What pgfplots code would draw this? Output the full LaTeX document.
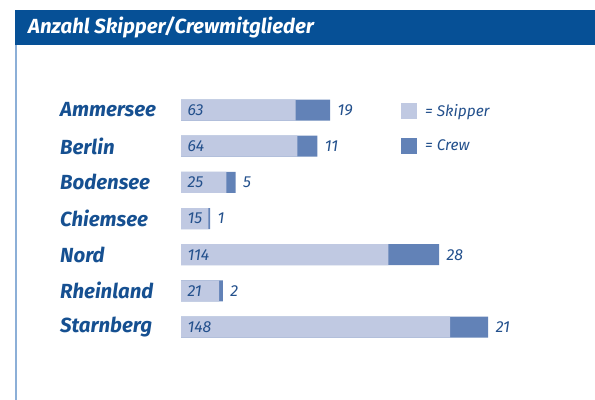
\documentclass[border=0pt]{standalone}
\usepackage{pgfplots}
\pgfplotsset{compat=1.18}
\usepackage{fontspec}
\setmainfont{Fira Sans}
\definecolor{titlebar}{RGB}{6,80,150}
\definecolor{leftline}{RGB}{140,175,215}
\definecolor{catcol}{RGB}{22,80,145}
\definecolor{valcol}{RGB}{35,80,140}
\definecolor{skip}{RGB}{192,201,226}
\definecolor{crew}{RGB}{98,130,183}
\begin{document}
\begin{tikzpicture}
\path[use as bounding box] (0bp,0bp) rectangle (595bp,400bp);
\fill[titlebar] (15bp,355bp) rectangle (595bp,390bp);
\draw[leftline, line width=1.2bp] (16bp,0bp) -- (16bp,355bp);
\node[anchor=west, text=white, font=\bfseries\itshape\fontsize{20.5}{20.5}\selectfont, inner sep=0pt] at (28bp,372.5bp) {Anzahl Skipper/Crewmitglieder};
\begin{axis}[
  at={(181bp,36.8bp)}, anchor=south west, scale only axis,
  width=363.6bp, height=289.3bp,
  xmin=0, xmax=200, ymin=-1, ymax=7, y dir=reverse,
  axis line style={draw=none}, tick style={draw=none},
  xtick=\empty, ytick={0,...,6},
  yticklabels={Ammersee,Berlin,Bodensee,Chiemsee,Nord,Rheinland,Starnberg},
  y tick label style={anchor=west, inner sep=0pt, xshift=-121bp,
    font=\bfseries\itshape\fontsize{20.5}{20.5}\selectfont, text=catcol},
  clip=false,
  legend image code/.code={\fill[#1,draw=none] (0bp,-8bp) rectangle (16bp,8bp);},
  legend style={at={(0.605,0.899)}, anchor=north west, draw=none, fill=none,
    inner sep=0pt, row sep=19bp, text=valcol,
    font=\itshape\fontsize{15.5}{15.5}\selectfont,
    nodes={inner sep=0pt}},
  legend cell align=left,
  /tikz/every odd column/.append style={column sep=8bp},
]
\addlegendimage{fill=skip}
\addlegendentry{= Skipper}
\addlegendimage{fill=crew}
\addlegendentry{= Crew}
% total (skipper + crew) drawn in crew colour
\addplot[xbar, bar width=21bp, bar shift=0pt, fill=crew, draw=none, forget plot,
  nodes near coords, point meta=explicit symbolic,
  every node near coord/.append style={anchor=west, xshift=4bp, text=valcol,
    font=\itshape\fontsize{16}{16}\selectfont}]
  coordinates {(82,0)[19] (75,1)[11] (30,2)[5] (16,3)[1] (142,4)[28] (23,5)[2] (169,6)[21]};
% skipper
\addplot[xbar, bar width=21bp, bar shift=0pt, fill=skip, draw=none, forget plot]
  coordinates {(63,0) (64,1) (25,2) (15,3) (114,4) (21,5) (148,6)};
% skipper labels inside the bars
\addplot[draw=none, mark=none, forget plot,
  nodes near coords, point meta=explicit symbolic,
  every node near coord/.append style={anchor=west, xshift=3bp, text=valcol,
    font=\itshape\fontsize{16}{16}\selectfont}]
  coordinates {(0,0)[63] (0,1)[64] (0,2)[25] (0,3)[15] (0,4)[114] (0,5)[21] (0,6)[148]};
\end{axis}
\end{tikzpicture}
\end{document}
